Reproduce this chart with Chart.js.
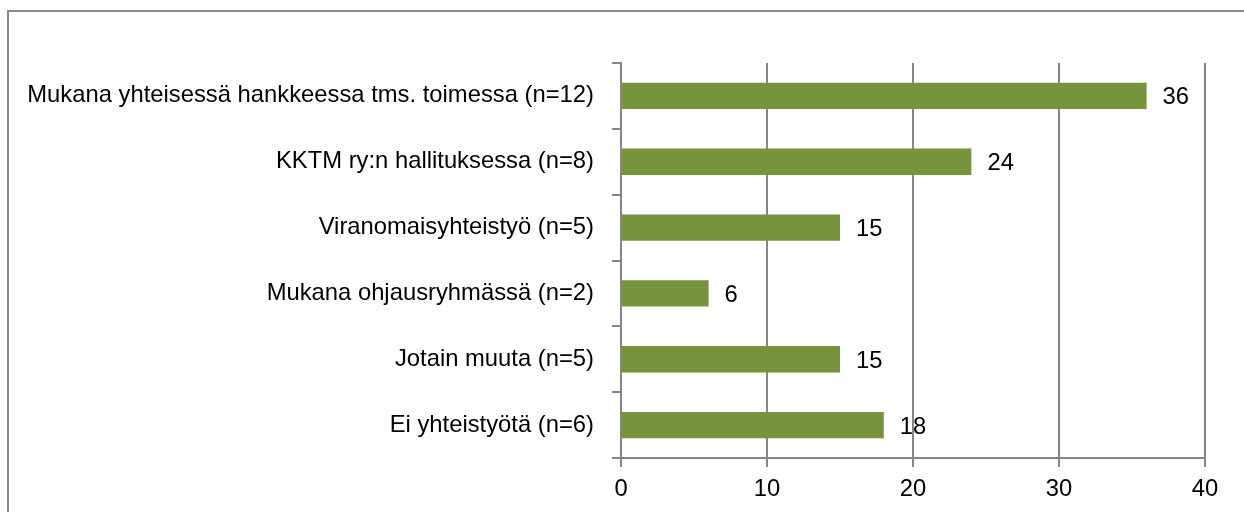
<!DOCTYPE html>
<html>
<head>
<meta charset="utf-8">
<script src="https://cdn.jsdelivr.net/npm/chart.js@4"></script>
<style>
	body { margin: 0; background: #fff; overflow: hidden; }
	#frame { position: absolute; left: 7px; top: 10px; width: 1300px; height: 600px; border: 2px solid #898989; }
	#wrap { position: absolute; left: 0; top: 0; width: 1244px; height: 512px; }
</style>
</head>
<body>
<div id="frame"></div>
<div id="wrap"><canvas id="chart" width="1244" height="512"></canvas></div>
<script>
const categories = [
	'Mukana yhteisessä hankkeessa tms. toimessa (n=12)',
	'KKTM ry:n hallituksessa (n=8)',
	'Viranomaisyhteistyö (n=5)',
	'Mukana ohjausryhmässä (n=2)',
	'Jotain muuta (n=5)',
	'Ei yhteistyötä (n=6)'
]
const values = [36, 24, 15, 6, 15, 18]
const xTicks = [0, 10, 20, 30, 40]

const fontFamily = '"Liberation Sans", Arial, sans-serif'
const fontSize = 23.8
const gridColor = '#868686'

/* value labels to the right of each bar */
const barLabels = {
	id: 'barLabels',
	afterDatasetsDraw(chart) {
		const ctx = chart.ctx
		const meta = chart.getDatasetMeta(0)
		ctx.save()
		ctx.font = fontSize + 'px ' + fontFamily
		ctx.fillStyle = '#000'
		ctx.textBaseline = 'middle'
		meta.data.forEach(function(bar, i) {
			ctx.fillText(String(values[i]), bar.x + 16, bar.y + 2)
		})
		ctx.restore()
	}
}

let ctx = document.getElementById('chart')
new Chart(ctx, {
	type: 'bar',
	data: {
		labels: categories,
		datasets: [{
			data: values,
			backgroundColor: '#77933C',
			borderWidth: 0,
			barPercentage: 0.4,
			categoryPercentage: 1
		}]
	},
	options: {
		indexAxis: 'y',
		responsive: false,
		animation: false,
		layout: { padding: { top: 63, right: 39, left: 0, bottom: 0 } },
		plugins: {
			legend: { display: false },
			tooltip: { enabled: false }
		},
		scales: {
			x: {
				min: 0,
				max: 40,
				afterBuildTicks(scale) {
					scale.ticks = xTicks.map(v => ({ value: v }))
				},
				afterFit(scale) { scale.height = 54 },
				grid: { color: gridColor, lineWidth: 2, tickLength: 9 },
				border: { color: gridColor, width: 2 },
				ticks: { color: '#000', font: { family: fontFamily, size: fontSize }, padding: 8 }
			},
			y: {
				afterFit(scale) { scale.width = 621 },
				grid: { offset: true, drawOnChartArea: false, color: gridColor, lineWidth: 2, tickLength: 9 },
				border: { color: gridColor, width: 2 },
				ticks: { color: '#000', font: { family: fontFamily, size: fontSize }, padding: 18 }
			}
		}
	},
	plugins: [barLabels]
})
</script>
</body>
</html>
